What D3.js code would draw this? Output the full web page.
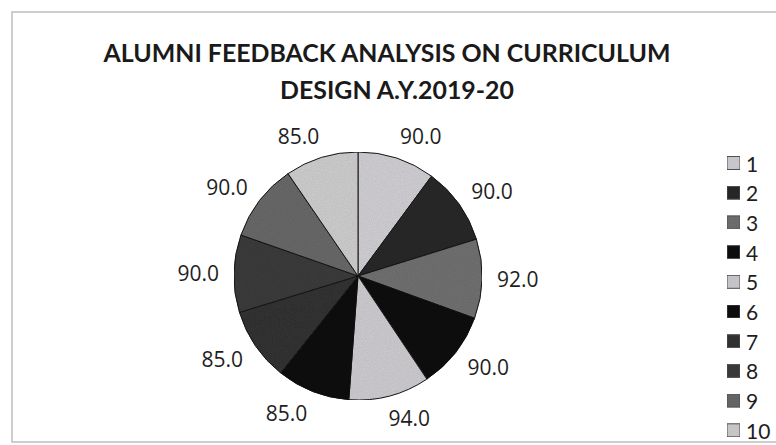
<!DOCTYPE html>
<html><head><meta charset="utf-8">
<script src="https://cdn.jsdelivr.net/npm/d3@7"></script>
<style>html,body{margin:0;padding:0;background:#fff;}svg{display:block;}</style>
</head><body>
<svg id="chart" width="776" height="445"></svg>
<script>
const categories = ["1","2","3","4","5","6","7","8","9","10"];
const values = [90.0, 90.0, 92.0, 90.0, 94.0, 85.0, 85.0, 90.0, 90.0, 85.0];
const sliceColors = ["#d3d1d5","#2b2b2b","#727272","#161616","#d0ced2","#131313","#363636","#3e3e3e","#6b6b6b","#d0d0d0"];
const titleLines = ["ALUMNI FEEDBACK ANALYSIS ON CURRICULUM","DESIGN A.Y.2019-20"];

const svg = d3.select("#chart");

// grain filter for scanned texture
const defs = svg.append("defs");
const f = defs.append("filter").attr("id","grain").attr("x","0").attr("y","0").attr("width","100%").attr("height","100%");
f.append("feTurbulence").attr("type","fractalNoise").attr("baseFrequency","0.9").attr("numOctaves","2").attr("seed","3").attr("result","noise");
f.append("feColorMatrix").attr("in","noise").attr("type","matrix")
  .attr("values","0 0 0 0 0  0 0 0 0 0  0 0 0 0 0  0 0 0 0.22 0").attr("result","dark");
f.append("feComposite").attr("in","dark").attr("in2","SourceGraphic").attr("operator","in").attr("result","dk");
f.append("feMerge").selectAll("feMergeNode").data(["SourceGraphic","dk"]).join("feMergeNode").attr("in",d=>d);

// frame
svg.append("rect").attr("x",12).attr("y",12).attr("width",800).attr("height",430)
  .attr("fill","none").attr("stroke","#bdbdbd").attr("stroke-width",1.5);

// title: fit font size to the reference width
const titleFont = "Lato, 'Open Sans', sans-serif";
const t1 = svg.append("text").attr("x",387).attr("y",62).attr("text-anchor","middle")
  .attr("font-family",titleFont).attr("font-weight","bold").attr("font-size",28).attr("fill","#1a1a1a")
  .text(titleLines[0]);
const tfs = Math.min(28 * 567 / t1.node().getComputedTextLength(), 30);
t1.attr("font-size", tfs);
svg.append("text").attr("x",397).attr("y",99).attr("text-anchor","middle")
  .attr("font-family",titleFont).attr("font-weight","bold").attr("font-size",tfs).attr("fill","#1a1a1a")
  .text(titleLines[1]);

// pie
const cx = 358, cy = 276, r = 124;
const pie = d3.pie().sort(null).value(d=>d)(values);
const arc = d3.arc().innerRadius(0).outerRadius(r);
const g = svg.append("g").attr("transform",`translate(${cx},${cy})`);
g.append("g").attr("filter","url(#grain)").selectAll("path").data(pie).join("path")
  .attr("d",arc).attr("fill",(d,i)=>sliceColors[i]).attr("stroke","#1a1a1a").attr("stroke-width",1);

// labels
const labelFont = "'Open Sans', sans-serif";
const lg = g.append("g");
pie.forEach((d,i)=>{
  const a = (d.startAngle + d.endAngle)/2;
  const s = Math.sin(a), c = Math.cos(a);
  const R = r + 15;
  const t = lg.append("text").attr("font-family",labelFont).attr("font-size",21).attr("fill","#1e1e1e")
    .attr("text-anchor","middle").attr("dominant-baseline","central").text(d3.format(".1f")(d.data));
  const w = t.node().getBBox().width, h = 16;
  const xo = Math.max(-1, Math.min(1, s*3)) * w/2;
  const yo = -c * h/2;
  t.attr("x", R*s + xo).attr("y", -R*c + yo);
});

// legend
const legY0 = 163, legStep = 29.7;
const leg = svg.append("g");
categories.forEach((c,i)=>{
  const y = legY0 + i*legStep;
  leg.append("rect").attr("x",727).attr("y",y-6.5).attr("width",13).attr("height",13)
    .attr("fill",sliceColors[i]).attr("stroke","#555").attr("stroke-width",1).attr("filter","url(#grain)");
  leg.append("text").attr("x",746).attr("y",y).attr("dominant-baseline","central")
    .attr("font-family","Lato, 'Open Sans', sans-serif").attr("font-size",21).attr("fill","#1e1e1e").text(c);
});
</script>
</body></html>
